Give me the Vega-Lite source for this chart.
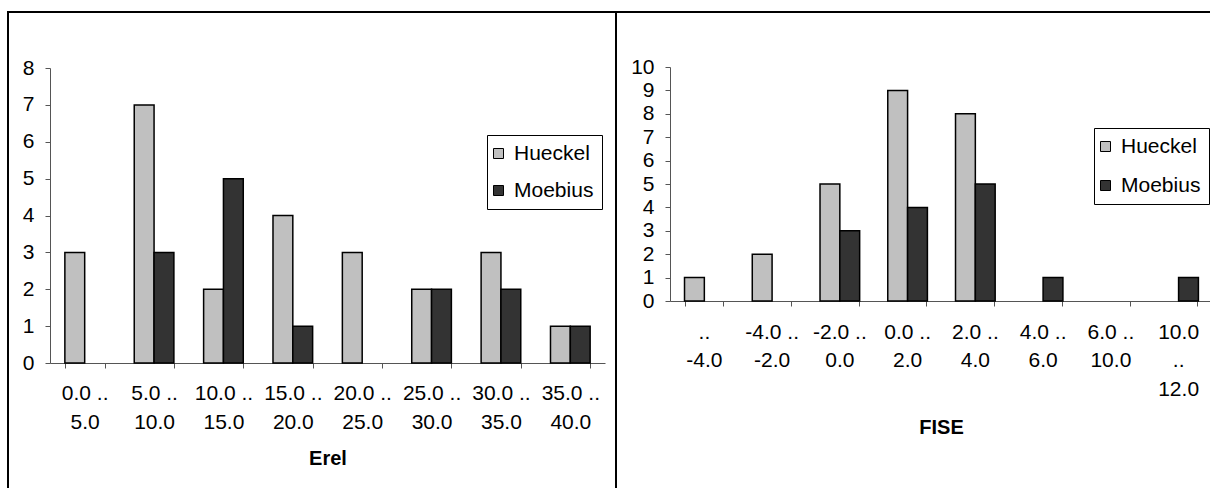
{
  "$schema": "https://vega.github.io/schema/vega-lite/v6.json",
  "padding": {"left": 7, "top": 11, "right": 0, "bottom": 0},
  "background": "white",
  "spacing": 0,
  "bounds": "flush",
  "config": {
    "font": "Liberation Sans",
    "view": {"stroke": "black", "strokeWidth": 2},
    "axis": {
      "labelFont": "Liberation Sans", "labelFontSize": 21, "labelColor": "black",
      "domainColor": "#555", "tickColor": "#555", "tickSize": 5, "grid": false,
      "titleFont": "Liberation Sans", "titleFontSize": 20, "titleFontWeight": "bold", "titleColor": "black"
    },
    "legend": {
      "labelFont": "Liberation Sans", "labelFontSize": 21, "labelColor": "black",
      "symbolType": "square", "symbolSize": 100, "symbolStrokeColor": "black", "symbolStrokeWidth": 1,
      "symbolOffset": -7, "labelOffset": 5, "padding": 8, "strokeColor": "black", "fillColor": "white"
    }
  },
  "resolve": {"scale": {"color": "independent"}, "legend": {"color": "independent"}},
  "datasets": {
    "erel": [
      {"bin": "0.0 ..|5.0", "series": "Hueckel", "count": 3},
      {"bin": "0.0 ..|5.0", "series": "Moebius", "count": 0},
      {"bin": "5.0 ..|10.0", "series": "Hueckel", "count": 7},
      {"bin": "5.0 ..|10.0", "series": "Moebius", "count": 3},
      {"bin": "10.0 ..|15.0", "series": "Hueckel", "count": 2},
      {"bin": "10.0 ..|15.0", "series": "Moebius", "count": 5},
      {"bin": "15.0 ..|20.0", "series": "Hueckel", "count": 4},
      {"bin": "15.0 ..|20.0", "series": "Moebius", "count": 1},
      {"bin": "20.0 ..|25.0", "series": "Hueckel", "count": 3},
      {"bin": "20.0 ..|25.0", "series": "Moebius", "count": 0},
      {"bin": "25.0 ..|30.0", "series": "Hueckel", "count": 2},
      {"bin": "25.0 ..|30.0", "series": "Moebius", "count": 2},
      {"bin": "30.0 ..|35.0", "series": "Hueckel", "count": 3},
      {"bin": "30.0 ..|35.0", "series": "Moebius", "count": 2},
      {"bin": "35.0 ..|40.0", "series": "Hueckel", "count": 1},
      {"bin": "35.0 ..|40.0", "series": "Moebius", "count": 1}
    ],
    "fise": [
      {"bin": "..|-4.0", "series": "Hueckel", "count": 1},
      {"bin": "..|-4.0", "series": "Moebius", "count": 0},
      {"bin": "-4.0 ..|-2.0", "series": "Hueckel", "count": 2},
      {"bin": "-4.0 ..|-2.0", "series": "Moebius", "count": 0},
      {"bin": "-2.0 ..|0.0", "series": "Hueckel", "count": 5},
      {"bin": "-2.0 ..|0.0", "series": "Moebius", "count": 3},
      {"bin": "0.0 ..|2.0", "series": "Hueckel", "count": 9},
      {"bin": "0.0 ..|2.0", "series": "Moebius", "count": 4},
      {"bin": "2.0 ..|4.0", "series": "Hueckel", "count": 8},
      {"bin": "2.0 ..|4.0", "series": "Moebius", "count": 5},
      {"bin": "4.0 ..|6.0", "series": "Hueckel", "count": 0},
      {"bin": "4.0 ..|6.0", "series": "Moebius", "count": 1},
      {"bin": "6.0 ..|10.0", "series": "Hueckel", "count": 0},
      {"bin": "6.0 ..|10.0", "series": "Moebius", "count": 0},
      {"bin": "10.0|..|12.0", "series": "Hueckel", "count": 0},
      {"bin": "10.0|..|12.0", "series": "Moebius", "count": 1}
    ]
  },
  "hconcat": [
    {
      "width": 608,
      "height": 490,
      "data": {"name": "erel"},
      "transform": [{"filter": "datum.count > 0"}],
      "mark": {"type": "bar", "stroke": "black", "strokeWidth": 1.5},
      "encoding": {
        "x": {
          "field": "bin", "type": "nominal", "sort": null,
          "scale": {
            "domain": ["0.0 ..|5.0", "5.0 ..|10.0", "10.0 ..|15.0", "15.0 ..|20.0", "20.0 ..|25.0", "25.0 ..|30.0", "30.0 ..|35.0", "35.0 ..|40.0"],
            "range": [42, 597], "paddingInner": 0.4286, "paddingOuter": 0.2143
          },
          "axis": {
            "title": "Erel", "labelAngle": 0, "labelExpr": "isString(datum.value) ? split(datum.value, '|') : ''",
            "tickBand": "extent", "offset": -139, "labelPadding": 14, "labelLineHeight": 29,
            "labelBaseline": "top", "titleBaseline": "middle", "titleY": 95
          }
        },
        "xOffset": {"field": "series", "type": "nominal", "scale": {"domain": ["Hueckel", "Moebius"], "paddingInner": 0, "paddingOuter": 0}},
        "y": {
          "field": "count", "type": "quantitative",
          "scale": {"domain": [0, 8], "range": [351, 56], "nice": false},
          "axis": {"title": null, "values": [0, 1, 2, 3, 4, 5, 6, 7, 8], "offset": -42, "labelPadding": 11}
        },
        "color": {
          "field": "series", "type": "nominal",
          "scale": {"domain": ["Hueckel", "Moebius"], "range": ["#c0c0c0", "#333333"]},
          "legend": {"title": null, "orient": "none", "legendX": 479, "legendY": 123, "rowPadding": 15}
        }
      }
    },
    {
      "width": 600,
      "height": 490,
      "data": {"name": "fise"},
      "transform": [{"filter": "datum.count > 0"}],
      "mark": {"type": "bar", "stroke": "black", "strokeWidth": 1.5},
      "encoding": {
        "x": {
          "field": "bin", "type": "nominal", "sort": null,
          "scale": {
            "domain": ["..|-4.0", "-4.0 ..|-2.0", "-2.0 ..|0.0", "0.0 ..|2.0", "2.0 ..|4.0", "4.0 ..|6.0", "6.0 ..|10.0", "10.0|..|12.0"],
            "range": [54, 596], "paddingInner": 0.4286, "paddingOuter": 0.2143
          },
          "axis": {
            "title": "FISE", "labelAngle": 0, "labelExpr": "isString(datum.value) ? split(datum.value, '|') : ''",
            "tickBand": "extent", "offset": -201, "labelPadding": 15, "labelLineHeight": 28.5,
            "labelBaseline": "top", "titleBaseline": "middle", "titleY": 126
          }
        },
        "xOffset": {"field": "series", "type": "nominal", "scale": {"domain": ["Hueckel", "Moebius"], "paddingInner": 0, "paddingOuter": 0}},
        "y": {
          "field": "count", "type": "quantitative",
          "scale": {"domain": [0, 10], "range": [289, 55], "nice": false},
          "axis": {"title": null, "values": [0, 1, 2, 3, 4, 5, 6, 7, 8, 9, 10], "offset": -54, "labelPadding": 11}
        },
        "color": {
          "field": "series", "type": "nominal",
          "scale": {"domain": ["Hueckel", "Moebius"], "range": ["#c0c0c0", "#333333"]},
          "legend": {"title": null, "orient": "none", "legendX": 478, "legendY": 116, "rowPadding": 17}
        }
      }
    }
  ]
}
